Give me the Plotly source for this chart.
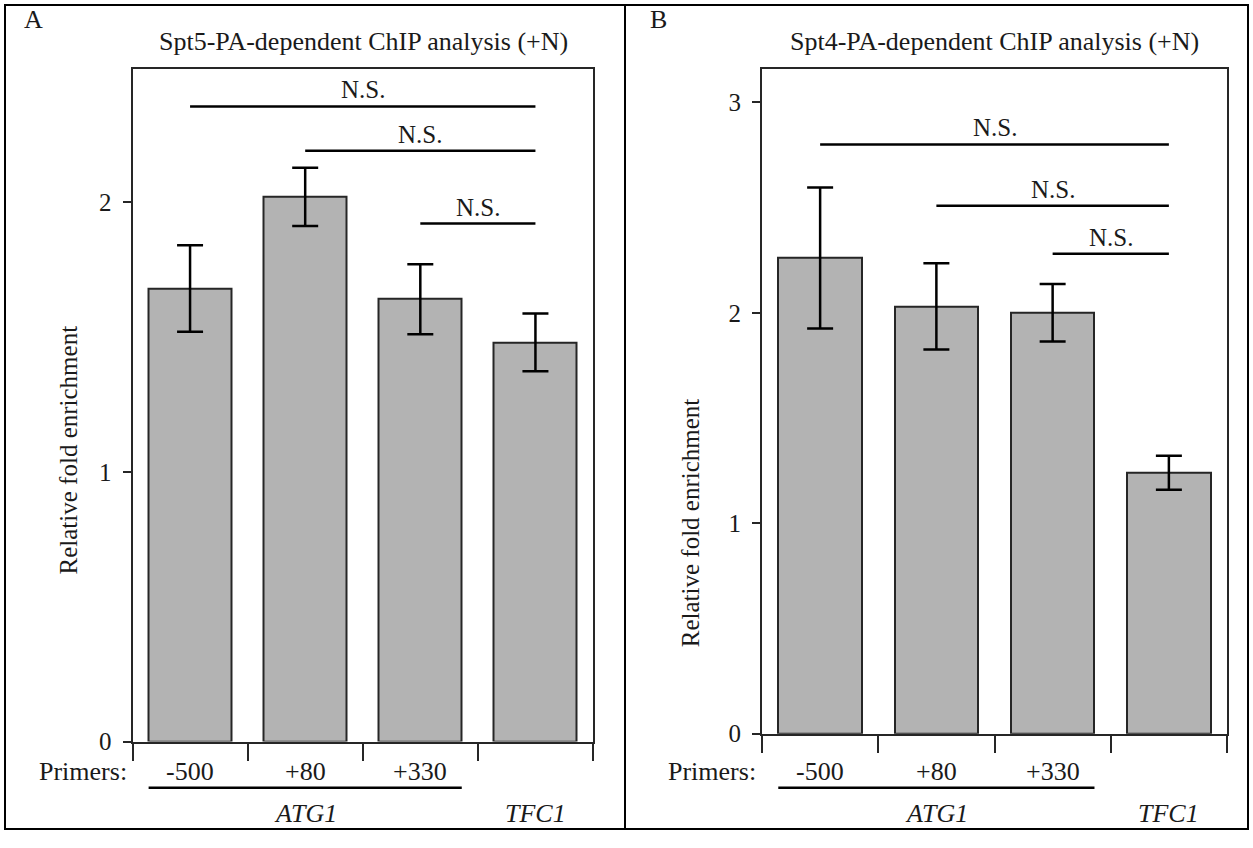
import plotly.graph_objects as go

# ---------------- data ----------------
primer_labels = ["-500", "+80", "+330", ""]
gene_labels = ["ATG1", "TFC1"]
positions = [0, 1, 2, 3]

spt5_values = [1.68, 2.02, 1.64, 1.48]
spt5_errors = [0.16, 0.108, 0.13, 0.107]

spt4_values = [2.26, 2.03, 2.00, 1.24]
spt4_errors = [0.335, 0.205, 0.137, 0.081]

# significance brackets: (from, to, height, label)
spt5_sig = [(0, 3, 2.355, "N.S."), (1, 3, 2.191, "N.S."), (2, 3, 1.921, "N.S.")]
spt4_sig = [(0, 3, 2.80, "N.S."), (1, 3, 2.508, "N.S."), (2, 3, 2.28, "N.S.")]

titles = ["Spt5-PA-dependent ChIP analysis (+N)", "Spt4-PA-dependent ChIP analysis (+N)"]
panel_letters = ["A", "B"]
y_title = "Relative fold enrichment"

# ---------------- layout helpers ----------------
W, H = 1253, 848
FONT = "Liberation Serif, Times New Roman, serif"
TXT = "#1a1a1a"
FRAME = "#262626"


def px(x):
    return x / W


def py(y):
    return 1 - y / H


panels = [
    dict(xa="x", ya="y", xdom=(132.5, 593), ydom=(754, 70), ymax=2.4945,
         vals=spt5_values, errs=spt5_errors, sig=spt5_sig, title=titles[0],
         letter=panel_letters[0], letter_x=22, title_x=363, ytitle_x=68, ytitle_y=458,
         primers_x=129),
    dict(xa="x2", ya="y2", xdom=(762, 1227), ydom=(746, 70), ymax=3.159,
         vals=spt4_values, errs=spt4_errors, sig=spt4_sig, title=titles[1],
         letter=panel_letters[1], letter_x=648, title_x=994, ytitle_x=690, ytitle_y=532,
         primers_x=758),
]

fig = go.Figure()
annotations = []
shapes = []

for i, p in enumerate(panels):
    fig.add_trace(go.Bar(
        x=positions, y=p["vals"], width=0.72,
        marker=dict(color="#b3b3b3", line=dict(color=FRAME, width=2)),
        error_y=dict(type="data", array=p["errs"], visible=True,
                     color="#000000", thickness=2.5, width=13),
        xaxis=p["xa"], yaxis=p["ya"], showlegend=False, hoverinfo="skip",
    ))
    axsuf = "" if i == 0 else "2"
    fig.update_layout(**{
        "xaxis" + axsuf: dict(
            domain=[px(p["xdom"][0]), px(p["xdom"][1])],
            range=[-0.5, 3.5], tickvals=[-0.5, 0.5, 1.5, 2.5, 3.5],
            ticks="outside", ticklen=17, tickwidth=2, tickcolor=FRAME,
            showticklabels=False, showline=True, linecolor=FRAME, linewidth=2,
            mirror=True, showgrid=False, zeroline=False,
            anchor="y" + axsuf, fixedrange=True,
        ),
        "yaxis" + axsuf: dict(
            domain=[py(p["ydom"][0]), py(p["ydom"][1])],
            range=[0, p["ymax"]], tickvals=[0, 1, 2, 3],
            ticks="outside", ticklen=8, tickwidth=2, tickcolor=FRAME,
            tickfont=dict(family=FONT, size=25, color=TXT),
            showline=True, linecolor=FRAME, linewidth=2, mirror=True,
            showgrid=False, zeroline=False, anchor="x" + axsuf, fixedrange=True,
            ticklabelstandoff=6,
        ),
    })

    # panel letter and title
    annotations.append(dict(text=p["letter"], x=px(p["letter_x"]), y=py(20),
                            xref="paper", yref="paper", xanchor="left", yanchor="middle",
                            showarrow=False, font=dict(family=FONT, size=26, color=TXT)))
    annotations.append(dict(text=p["title"], x=px(p["title_x"]), y=py(42),
                            xref="paper", yref="paper", xanchor="center", yanchor="middle",
                            showarrow=False, font=dict(family=FONT, size=26, color=TXT)))
    # y-axis title
    annotations.append(dict(text=y_title, x=px(p["ytitle_x"]), y=py(p["ytitle_y"]),
                            xref="paper", yref="paper", textangle=-90,
                            xanchor="center", yanchor="middle", showarrow=False,
                            font=dict(family=FONT, size=25, color=TXT)))

    # significance brackets
    for a, b, lvl, lab in p["sig"]:
        shapes.append(dict(type="line", xref=p["xa"], yref=p["ya"], x0=a, x1=b,
                           y0=lvl, y1=lvl, line=dict(color="#000000", width=2.5)))
        annotations.append(dict(text=lab, x=(a + b) / 2, y=lvl, xref=p["xa"], yref=p["ya"],
                                xanchor="center", yanchor="bottom", yshift=1, showarrow=False,
                                font=dict(family=FONT, size=25, color=TXT)))

    # primer labels
    annotations.append(dict(text="Primers:", x=px(p["primers_x"]), y=py(784),
                            xref="paper", yref="paper", xanchor="right", yanchor="middle",
                            showarrow=False, font=dict(family=FONT, size=26, color=TXT)))
    for xpos, lab in zip(positions, primer_labels):
        if lab:
            annotations.append(dict(text=lab, x=xpos, y=py(784), xref=p["xa"], yref="paper",
                                    xanchor="center", yanchor="middle", showarrow=False,
                                    font=dict(family=FONT, size=26, color=TXT)))
    # ATG1 underline spanning first three primers
    shapes.append(dict(type="line", xref=p["xa"], yref="paper", x0=-0.36, x1=2.36,
                       y0=py(801), y1=py(801), line=dict(color="#000000", width=2.5)))
    annotations.append(dict(text="<i>" + gene_labels[0] + "</i>", x=1, y=py(827),
                            xref=p["xa"], yref="paper", xanchor="center", yanchor="middle",
                            showarrow=False, font=dict(family=FONT, size=26, color=TXT)))
    annotations.append(dict(text="<i>" + gene_labels[1] + "</i>", x=3, y=py(827),
                            xref=p["xa"], yref="paper", xanchor="center", yanchor="middle",
                            showarrow=False, font=dict(family=FONT, size=26, color=TXT)))

# outer border and divider
shapes.append(dict(type="rect", xref="paper", yref="paper", x0=px(5), x1=px(1248),
                   y0=py(843), y1=py(5), line=dict(color="#000000", width=2)))
shapes.append(dict(type="line", xref="paper", yref="paper", x0=px(625), x1=px(625),
                   y0=py(843), y1=py(5), line=dict(color="#000000", width=2)))

fig.update_layout(
    width=W, height=H, margin=dict(l=0, r=0, t=0, b=0),
    paper_bgcolor="white", plot_bgcolor="white",
    annotations=annotations, shapes=shapes, bargap=0,
    font=dict(family=FONT, color=TXT),
)

fig.write_html(
    "out.html",
    config={"displayModeBar": False},
    post_script="document.body.style.margin='0px';document.body.style.overflow='hidden';",
)
